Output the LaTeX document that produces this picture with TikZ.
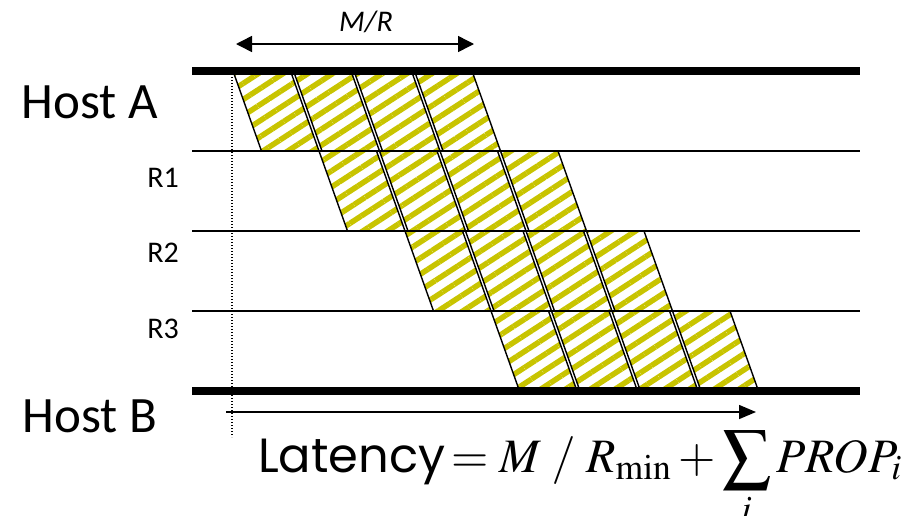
\documentclass[tikz,border=0pt]{standalone}
\usepackage{mathptmx}
\usepackage[no-math]{fontspec}
\usepackage{tikz}
\usetikzlibrary{arrows.meta,positioning,calc,patterns.meta}
\newfontfamily\calibrifont{Carlito}
\newfontfamily\casualfont{Poppins}
\definecolor{StripeYellow}{HTML}{C8C400}
\definecolor{LineBlack}{HTML}{000000}

\begin{document}
\begin{tikzpicture}[
    x=1pt,y=-1pt,
    pkt/.style={draw=LineBlack,line width=1.4pt,line join=miter,
      pattern={Lines[angle=33,distance=13.5pt,line width=5.5pt]},pattern color=StripeYellow},
    hostline/.style={line width=7.5pt,LineBlack},
    routerline/.style={line width=1.6pt,LineBlack},
    hostlabel/.style={font=\calibrifont\fontsize{51}{55}\selectfont,inner sep=0pt},
    rlabel/.style={font=\calibrifont\fontsize{30}{34}\selectfont,inner sep=0pt},
    span/.style={line width=1.5pt,{Triangle[length=16pt,width=16pt]}-{Triangle[length=16pt,width=16pt]}},
  ]
  \useasboundingbox (0,0) rectangle (913,515);

  % packets, one row per hop
  \foreach \r/\x in {0/233,1/319,2/405,3/491} {
    \foreach \k in {0,...,3} {
      \pgfmathsetmacro\xa{\x+60.5*\k}
      \draw[pkt] ({\xa},{71+80*\r}) -- ++(57.5,0) -- ++(28.5,80) -- ++(-57.5,0) -- cycle;
    }
  }

  % hosts and routers
  \coordinate (hA-w) at (192,71);  \coordinate (hA-e) at (860,71);
  \coordinate (hB-w) at (192,391); \coordinate (hB-e) at (860,391);
  \foreach \i/\y in {1/151,2/231,3/311} {
    \coordinate (r\i-w) at (192,\y);
    \coordinate (r\i-e) at (860,\y);
    \draw[routerline] (r\i-w) -- (r\i-e);
  }
  \draw[hostline] (hA-w) -- (hA-e);
  \draw[hostline] (hB-w) -- (hB-e);

  \node[hostlabel] (hostA) at (90,102) {Host A};
  \node[hostlabel] (hostB) at (90,416) {Host B};
  \foreach \i/\y in {1/178,2/253,3/329} {
    \node[rlabel,anchor=east] (lab\i) at (179,\y) {R\i};
  }

  % timing marks
  \coordinate (t0) at (232,71);
  \coordinate (t1) at (232,437);
  \draw[line width=1.2pt,dash pattern=on 1.2pt off 1.8pt] (t0) -- (t1);

  \coordinate (mr-w) at (236,44);
  \coordinate (mr-e) at (474,44);
  \draw[span] (mr-w) -- (mr-e);
  \node[font=\calibrifont\itshape\fontsize{30}{34}\selectfont,inner sep=0pt] (mr) at (366,22) {M/R};

  \coordinate (lat-w) at (226,412);
  \coordinate (lat-e) at (756,412);
  \draw[line width=1.5pt,-{Triangle[length=17pt,width=14pt]}] (lat-w) -- (lat-e);

  \node[anchor=base west,inner sep=0pt,font=\fontsize{48}{52}\selectfont] (latency) at (258,472)
    {{\casualfont Latency}\hspace{-5pt}$\displaystyle {}= M\;/\;R_{\min} + \sum_i PROP_i$};
\end{tikzpicture}
\end{document}
